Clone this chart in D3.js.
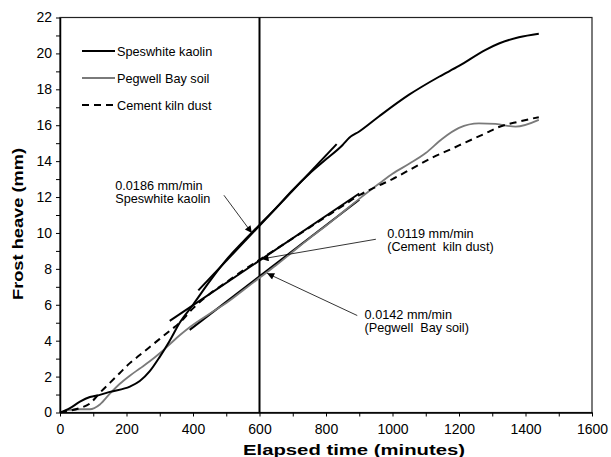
<!DOCTYPE html>
<html>
<head>
<meta charset="utf-8">
<script src="https://cdn.jsdelivr.net/npm/d3@7"></script>
<style>
  body { margin: 0; background: #fff; }
  text { font-family: "Liberation Sans", Arial, sans-serif; }
</style>
</head>
<body>
<div id="chart"></div>
<script>
// frost heave (mm) against elapsed time (minutes)
var kaolin = [[0,0],[30,0.25],[60,0.6],[90,0.86],[120,0.98],[150,1.15],[210,1.44],[240,1.75],[270,2.3],
    [300,3.1],[330,4.0],[360,5.0],[400,6.0],[450,7.3],[500,8.5],[550,9.5],[600,10.45],[650,11.4],
    [700,12.4],[750,13.3],[800,14.1],[850,14.9],[870,15.3],[900,15.65],[960,16.5],[1050,17.7],
    [1140,18.7],[1200,19.3],[1280,20.2],[1320,20.55],[1380,20.9],[1440,21.1]]
var pegwell = [[0,0],[30,0.15],[60,0.18],[90,0.18],[120,0.45],[150,1.05],[180,1.6],[210,2.05],
    [240,2.45],[270,2.85],[300,3.3],[330,3.8],[360,4.3],[390,4.75],[450,5.5],[500,6.1],[550,6.8],
    [600,7.5],[650,8.2],[700,8.95],[750,9.7],[800,10.4],[850,11.15],[900,11.9],[960,12.75],
    [1000,13.3],[1050,13.85],[1100,14.45],[1150,15.25],[1200,15.85],[1260,16.1],[1310,16.07],
    [1370,15.92],[1440,16.3]]
var cement = [[0,0],[30,0.1],[60,0.25],[90,0.5],[120,1.1],[150,1.65],[180,2.2],[210,2.75],[240,3.2],
    [270,3.65],[300,4.1],[330,4.55],[360,5.0],[400,5.8],[450,6.6],[500,7.25],[550,7.9],[600,8.5],
    [650,9.1],[700,9.7],[750,10.3],[800,10.9],[850,11.5],[900,12.1],[960,12.65],[1000,13.0],
    [1060,13.6],[1120,14.2],[1180,14.7],[1220,15.05],[1280,15.55],[1320,15.9],[1380,16.2],[1440,16.45]]

// fitted slopes (start and end of each line)
var kaolinFit = [[416,6.8],[832,14.95]]
var cementFit = [[330,5.1],[900,12.2]]
var pegwellFit = [[390,4.6],[900,11.85]]

var seriesNames = ['Speswhite kaolin', 'Pegwell Bay soil', 'Cement kiln dust']
var markTime = 600

// annotation: two text lines, arrow tail and tip in data units
var notes = [
    { lines: ['0.0186 mm/min', 'Speswhite kaolin'], at: [166,12.4], tail: [493,12.1], tip: [577,10.0] },
    { lines: ['0.0119 mm/min', '(Cement  kiln dust)'], at: [984,9.7], tail: [950,9.65], tip: [606,8.55] },
    { lines: ['0.0142 mm/min', '(Pegwell  Bay soil)'], at: [916,5.2], tail: [894,5.4], tip: [623,7.75] }
]

var margin = { top: 17.5, right: 19, bottom: 44.5, left: 60 }
var width = 611 - margin.left - margin.right
var height = 457 - margin.top - margin.bottom

var x = d3.scaleLinear().domain([0, 1600]).range([0, width])
var y = d3.scaleLinear().domain([0, 22]).range([height, 0])

var svg = d3.select('#chart')
    .append('svg')
    .attr('width', 611)
    .attr('height', 457)

svg.append('defs').append('marker')
    .attr('id', 'head')
    .attr('viewBox', '0 0 10 10')
    .attr('refX', 10)
    .attr('refY', 5)
    .attr('markerWidth', 9)
    .attr('markerHeight', 7)
    .attr('markerUnits', 'userSpaceOnUse')
    .attr('orient', 'auto')
    .append('path')
    .attr('d', 'M0,0L10,5L0,10z')
    .attr('fill', '#000')

var g = svg.append('g')
    .attr('transform', 'translate(' + margin.left + ',' + margin.top + ')')

// frame
g.append('rect')
    .attr('width', width)
    .attr('height', height)
    .attr('fill', 'none')
    .attr('stroke', '#222')
    .attr('stroke-width', 1.2)

var xAxis = d3.axisBottom(x)
    .tickValues(d3.range(0, 1601, 100))
    .tickSize(4)
    .tickSizeOuter(0)
    .tickFormat(function (d) { return d % 200 === 0 ? d : '' })
var yAxis = d3.axisLeft(y)
    .tickValues(d3.range(0, 23, 1))
    .tickSize(4)
    .tickSizeOuter(0)
    .tickFormat(function (d) { return d % 2 === 0 ? d : '' })

var gx = g.append('g')
    .attr('transform', 'translate(0,' + height + ')')
    .call(xAxis)
var gy = g.append('g').call(yAxis)

;[gx, gy].forEach(function (a) {
    a.select('.domain').attr('stroke', '#000').attr('stroke-width', 1.5)
    a.selectAll('.tick line').attr('stroke', '#000').attr('stroke-width', 1)
    a.selectAll('.tick text')
        .attr('fill', '#000')
        .style('font-size', '14px')
        .style('font-family', '"Liberation Sans", Arial, sans-serif')
})
gx.selectAll('.tick text').attr('dy', '1.05em')
gy.selectAll('.tick text').attr('x', -8)

// axis titles
svg.append('text')
    .attr('x', 243)
    .attr('y', 455)
    .attr('textLength', 222)
    .attr('lengthAdjust', 'spacingAndGlyphs')
    .style('font-size', '14px')
    .style('font-weight', 'bold')
    .text('Elapsed time (minutes)')
svg.append('text')
    .attr('transform', 'translate(23,300) rotate(-90)')
    .attr('textLength', 152)
    .attr('lengthAdjust', 'spacingAndGlyphs')
    .style('font-size', '14px')
    .style('font-weight', 'bold')
    .text('Frost heave (mm)')

var line = d3.line()
    .x(function (d) { return x(d[0]) })
    .y(function (d) { return y(d[1]) })
    .curve(d3.curveMonotoneX)

// vertical line at 600 minutes
g.append('line')
    .attr('x1', x(markTime)).attr('x2', x(markTime))
    .attr('y1', y(0)).attr('y2', y(22))
    .attr('stroke', '#000')
    .attr('stroke-width', 2)

// fitted lines
;[kaolinFit, cementFit, pegwellFit].forEach(function (f) {
    g.append('path')
        .attr('d', d3.line()(f.map(function (d) { return [x(d[0]), y(d[1])] })))
        .attr('stroke', '#000')
        .attr('stroke-width', 2)
        .attr('fill', 'none')
})

// data series
g.append('path')
    .attr('d', line(pegwell))
    .attr('fill', 'none')
    .attr('stroke', '#7a7a7a')
    .attr('stroke-width', 1.8)
g.append('path')
    .attr('d', line(cement))
    .attr('fill', 'none')
    .attr('stroke', '#000')
    .attr('stroke-width', 2)
    .attr('stroke-dasharray', '7,5')
g.append('path')
    .attr('d', line(kaolin))
    .attr('fill', 'none')
    .attr('stroke', '#000')
    .attr('stroke-width', 2)

// annotations
notes.forEach(function (n) {
    g.append('line')
        .attr('x1', x(n.tail[0])).attr('y1', y(n.tail[1]))
        .attr('x2', x(n.tip[0])).attr('y2', y(n.tip[1]))
        .attr('stroke', '#000')
        .attr('stroke-width', 0.8)
        .attr('marker-end', 'url(#head)')
    var t = g.append('text')
        .attr('x', x(n.at[0]))
        .attr('y', y(n.at[1]))
        .style('font-size', '12.7px')
        .style('white-space', 'pre')
    n.lines.forEach(function (s, i) {
        t.append('tspan')
            .attr('x', x(n.at[0]))
            .attr('dy', i === 0 ? 0 : 13)
            .text(s)
    })
})

// legend
var legend = g.selectAll('.legend')
    .data(seriesNames)
    .enter().append('g')
    .attr('class', 'legend')
    .attr('transform', function (d, i) { return 'translate(22,' + (33.5 + i * 27) + ')' })
legend.append('line')
    .attr('x1', 0).attr('x2', 33)
    .attr('stroke', function (d, i) { return i === 1 ? '#7a7a7a' : '#000' })
    .attr('stroke-width', function (d, i) { return i === 1 ? 1.8 : 2 })
    .attr('stroke-dasharray', function (d, i) { return i === 2 ? '7,5' : null })
legend.append('text')
    .attr('x', 35)
    .attr('y', 4.5)
    .style('font-size', '12.7px')
    .text(function (d) { return d })
</script>
</body>
</html>
